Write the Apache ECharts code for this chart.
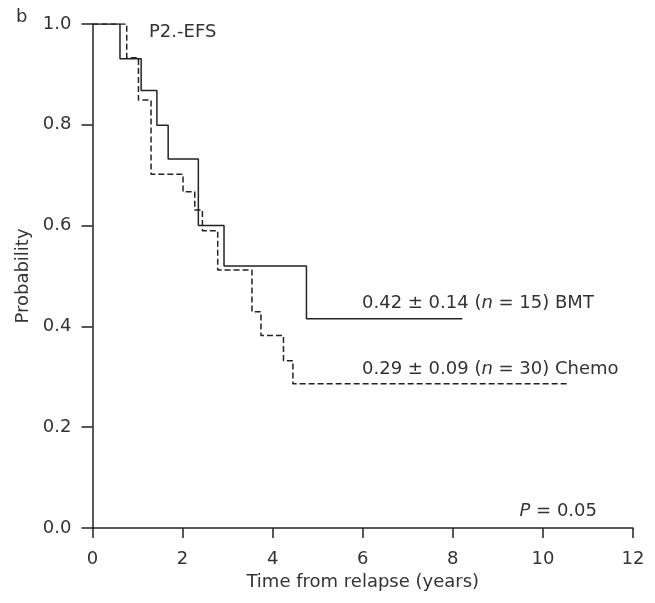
<!DOCTYPE html>
<html>
<head>
<meta charset="utf-8">
<script src="https://cdn.jsdelivr.net/npm/echarts@6/dist/echarts.min.js"></script>
<style>
html,body{margin:0;padding:0;background:#fff;}
#chart{width:655px;height:603px;}
</style>
</head>
<body>
<div id="chart"></div>
<script>
// BMT (solid) Kaplan-Meier steps: time of each drop and the new survival value
var bmtTimes = [0, 0.61, 1.08, 1.43, 1.68, 2.35, 2.92, 4.75, 8.21];
var bmtSurv  = [1.0, 0.931, 0.868, 0.799, 0.732, 0.600, 0.520, 0.415, 0.415];
// Chemo (dashed)
var chemoTimes = [0, 0.76, 1.02, 1.30, 2.01, 2.27, 2.44, 2.78, 3.54, 3.74, 4.24, 4.45, 10.59];
var chemoSurv  = [1.0, 0.933, 0.849, 0.702, 0.667, 0.631, 0.590, 0.512, 0.429, 0.382, 0.332, 0.286, 0.286];
var xTicks = [0, 2, 4, 6, 8, 10, 12];
var yTicks = [0.0, 0.2, 0.4, 0.6, 0.8, 1.0];

var FONT = 'DejaVu Sans';
var FS = 18;
var TXT = '#333';
var LINE = '#222';

function pairs(t, s) { return t.map(function (v, i) { return [v, s[i]]; }); }
var richStyles = {
  a: {fontFamily: FONT, fontSize: FS, fill: TXT, color: TXT},
  i: {fontFamily: FONT, fontSize: FS, fontStyle: 'italic', fill: TXT, color: TXT}
};

var chart = echarts.init(document.getElementById('chart'), null, {renderer: 'canvas'});
chart.setOption({
  animation: false,
  backgroundColor: '#fff',
  grid: {left: 92.5, right: 22, top: 24, bottom: 75, containLabel: false},
  xAxis: {
    type: 'value', min: 0, max: 12, interval: 2,
    name: 'Time from relapse (years)', nameLocation: 'middle', nameGap: 42,
    nameTextStyle: {fontFamily: FONT, fontSize: FS, color: TXT},
    axisLine: {show: true, lineStyle: {color: LINE, width: 1.5}},
    axisTick: {show: true, length: 10, lineStyle: {color: LINE, width: 1.5}},
    axisLabel: {fontFamily: FONT, fontSize: FS, color: TXT, margin: 22,
      formatter: function (v) { return xTicks.indexOf(v) >= 0 ? String(v) : ''; }},
    splitLine: {show: false}
  },
  yAxis: {
    type: 'value', min: 0, max: 1, interval: 0.2,
    name: 'Probability', nameLocation: 'middle', nameGap: 56, nameRotate: 90,
    nameTextStyle: {fontFamily: FONT, fontSize: FS, color: TXT},
    axisLine: {show: true, lineStyle: {color: LINE, width: 1.5}},
    axisTick: {show: true, length: 11, lineStyle: {color: LINE, width: 1.5}},
    axisLabel: {fontFamily: FONT, fontSize: FS, color: TXT, margin: 21,
      formatter: function (v) { return v.toFixed(1); }},
    splitLine: {show: false}
  },
  series: [
    {
      name: 'BMT', type: 'line', step: 'end', symbol: 'none',
      data: pairs(bmtTimes, bmtSurv),
      lineStyle: {color: LINE, width: 1.5, type: 'solid'}
    },
    {
      name: 'Chemo', type: 'line', step: 'end', symbol: 'none',
      data: pairs(chemoTimes, chemoSurv),
      lineStyle: {color: LINE, width: 1.5, type: [6, 3]}
    }
  ],
  graphic: [
    {type: 'text', x: 16, y: 17, style: {text: 'b', font: FS + 'px "' + FONT + '"', fill: TXT, align: 'left', verticalAlign: 'middle'}},
    {type: 'text', x: 149, y: 32, style: {text: 'P2.-EFS', font: FS + 'px "' + FONT + '"', fill: TXT, align: 'left', verticalAlign: 'middle'}},
    {type: 'text', x: 362, y: 303, style: {
      text: '{a|0.42 ± 0.14 (}{i|n}{a| = 15) BMT}', rich: richStyles, align: 'left', verticalAlign: 'middle'
    }},
    {type: 'text', x: 362, y: 369, style: {
      text: '{a|0.29 ± 0.09 (}{i|n}{a| = 30) Chemo}', rich: richStyles, align: 'left', verticalAlign: 'middle'
    }},
    {type: 'text', x: 597, y: 511, style: {
      text: '{i|P}{a| = 0.05}', rich: richStyles, align: 'right', verticalAlign: 'middle'
    }}
  ]
});
</script>
</body>
</html>
